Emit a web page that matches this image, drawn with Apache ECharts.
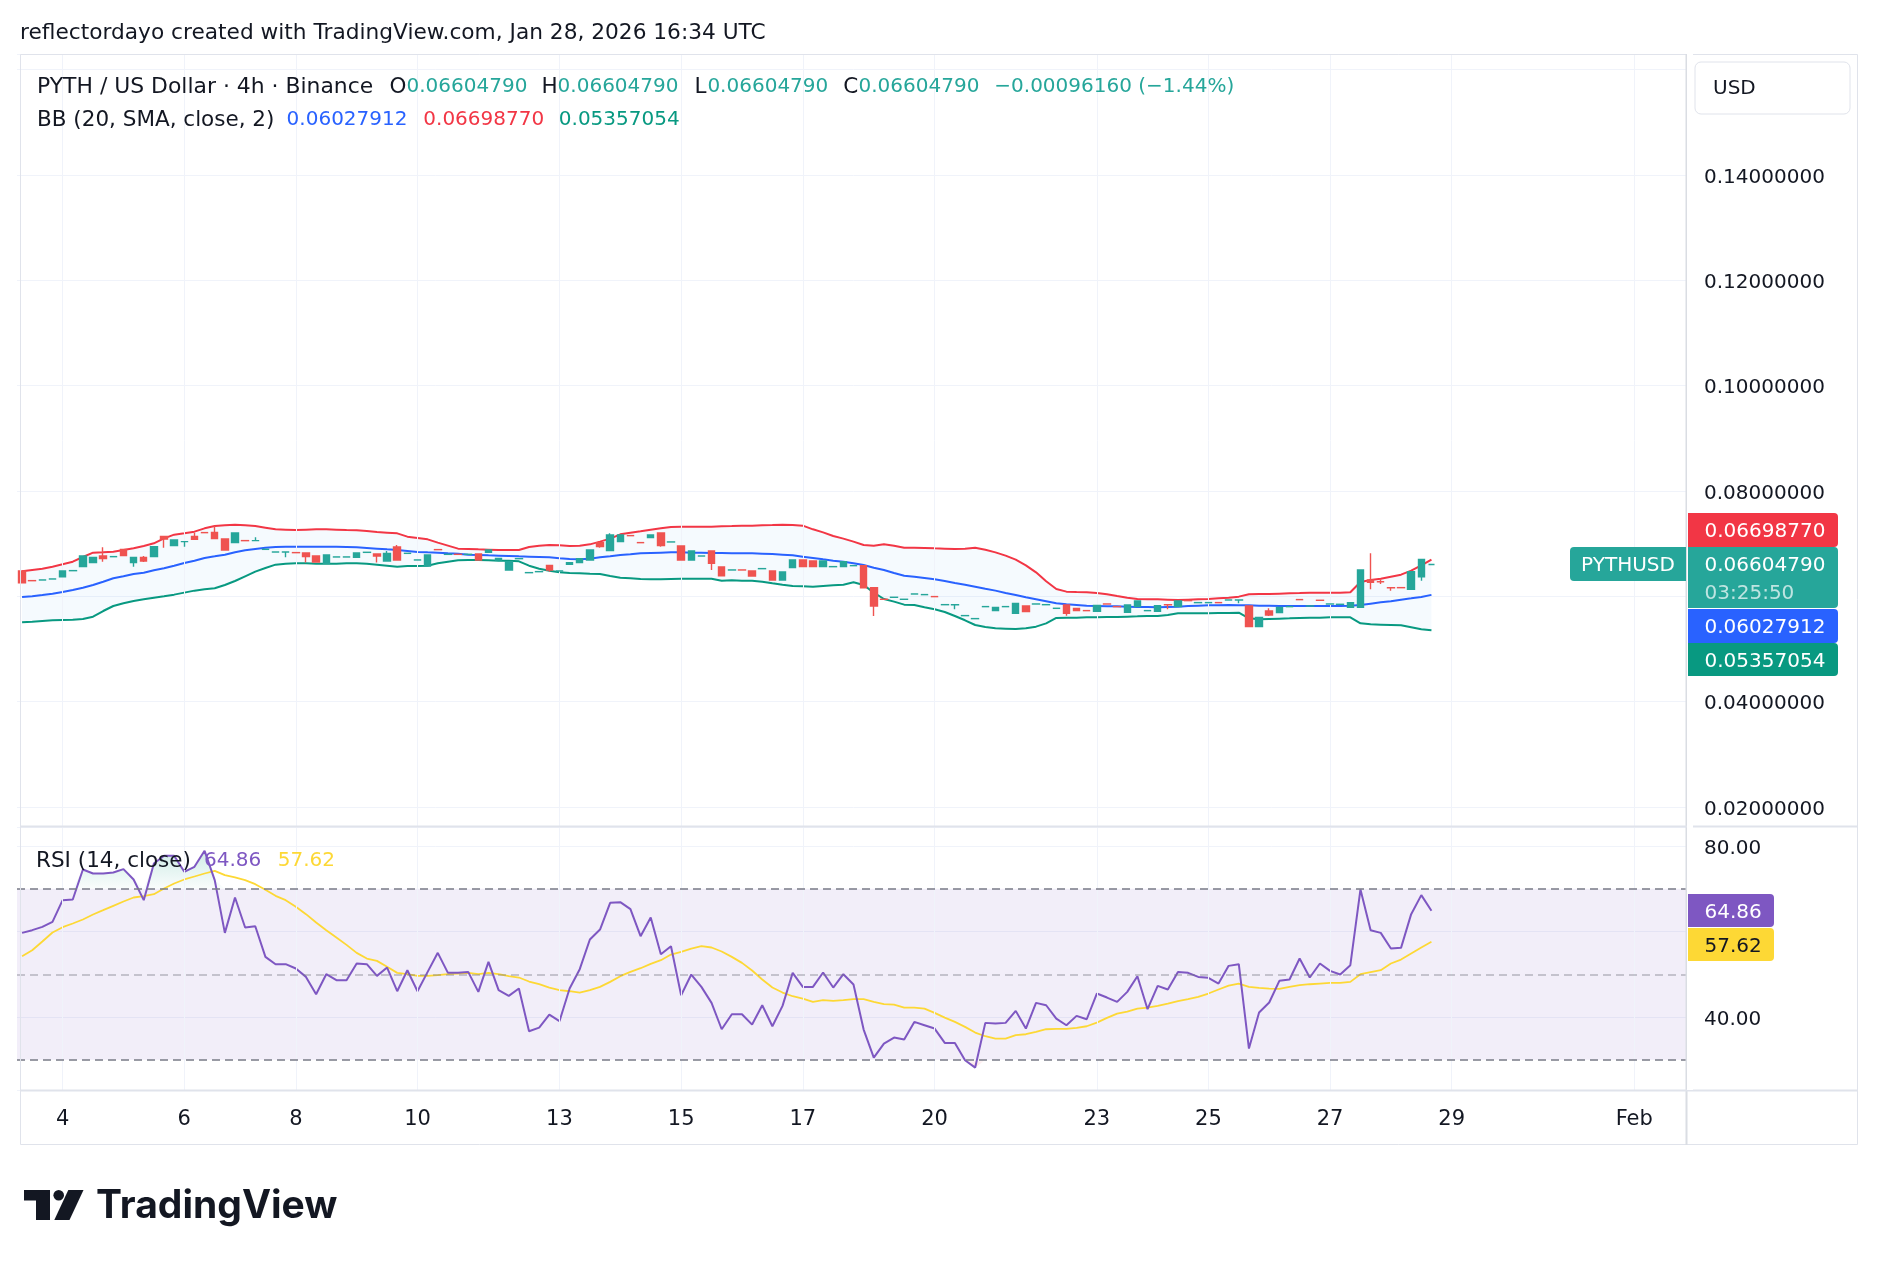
<!DOCTYPE html>
<html>
<head>
<meta charset="utf-8">
<title>PYTH / US Dollar · 4h</title>
<script src="https://cdn.jsdelivr.net/npm/echarts@6.0.0/dist/echarts.min.js"></script>
<style>
  html, body { margin: 0; padding: 0; background: #ffffff; }
  #chart { width: 1878px; height: 1266px; }
</style>
</head>
<body>
<div id="chart"></div>
<script>
// 4h bars, Jan 3 08:00 -> Jan 28 16:00 (the pair skips some bars)
var opens = [
  0.06481,0.06298,0.06310,0.06329,0.06373,0.06487,0.06563,0.06640,0.06765,0.06753,
  0.06892,0.06640,0.06740,0.06753,0.07139,0.06962,0.07038,0.07139,0.07210,0.07215,
  0.07089,0.07019,0.07058,0.07057,0.06892,0.06841,0.06841,0.06830,0.06822,0.06765,
  0.06627,0.06747,0.06747,0.06740,0.06835,0.06804,0.06671,0.06937,0.06816,0.06690,
  0.06576,0.06887,0.06797,0.06798,0.06797,0.06804,0.06835,0.06690,0.06500,0.06715,
  0.06449,0.06468,0.06588,0.06481,0.06608,0.06640,0.06690,0.07019,0.06867,0.07038,
  0.07153,0.07020,0.07114,0.07202,0.07032,0.06956,0.06690,0.06765,0.06861,0.06557,
  0.06500,0.06501,0.06481,0.06525,0.06481,0.06310,0.06544,0.06690,0.06671,0.06563,
  0.06563,0.06563,0.06582,0.06582,0.06164,0.05944,0.05981,0.05943,0.06044,0.06032,
  0.05995,0.05841,0.05841,0.05633,0.05576,0.05804,0.05728,0.05804,0.05677,0.05816,
  0.05854,0.05841,0.05772,0.05835,0.05772,0.05729,0.05715,0.05855,0.05805,0.05696,
  0.05804,0.05728,0.05715,0.05842,0.05804,0.05919,0.05880,0.05880,0.05881,0.05930,
  0.05930,0.05816,0.05424,0.05721,0.05690,0.05804,0.05938,0.05816,0.05925,0.05854,
  0.05848,0.05791,0.05791,0.06310,0.06279,0.06165,0.06165,0.06133,0.06373,0.0660479
];
var closes = [
  0.06259,0.06297,0.06311,0.06330,0.06481,0.06488,0.06765,0.06740,0.06715,0.06754,
  0.06772,0.06740,0.06671,0.06943,0.07089,0.07070,0.07039,0.07082,0.07209,0.07095,
  0.06880,0.07202,0.07057,0.07058,0.06893,0.06842,0.06842,0.06829,0.06753,0.06652,
  0.06785,0.06748,0.06748,0.06822,0.06836,0.06765,0.06816,0.06690,0.06817,0.06691,
  0.06785,0.06886,0.06798,0.06797,0.06798,0.06690,0.06880,0.06721,0.06658,0.06716,
  0.06450,0.06469,0.06500,0.06482,0.06640,0.06715,0.06880,0.06943,0.07164,0.07164,
  0.07152,0.07019,0.07164,0.06962,0.07033,0.06690,0.06861,0.06766,0.06627,0.06392,
  0.06501,0.06500,0.06386,0.06526,0.06310,0.06462,0.06690,0.06563,0.06563,0.06671,
  0.06564,0.06658,0.06583,0.06164,0.05816,0.05943,0.05982,0.05944,0.06045,0.06033,
  0.05994,0.05842,0.05842,0.05634,0.05577,0.05805,0.05791,0.05805,0.05867,0.05709,
  0.05855,0.05842,0.05773,0.05677,0.05728,0.05728,0.05829,0.05854,0.05804,0.05835,
  0.05911,0.05729,0.05823,0.05841,0.05911,0.05918,0.05881,0.05881,0.05880,0.05931,
  0.05931,0.05424,0.05601,0.05646,0.05791,0.05805,0.05937,0.05817,0.05924,0.05855,
  0.05849,0.05880,0.06500,0.06266,0.06278,0.06164,0.06164,0.06468,0.0670095,0.0660479
];
var lows = [
  0.06259,0.06297,0.06310,0.06329,0.06373,0.06487,0.06563,0.06640,0.06658,0.06753,
  0.06772,0.06563,0.06652,0.06753,0.06924,0.06962,0.06943,0.07082,0.07209,0.07095,
  0.06880,0.07019,0.07057,0.07057,0.06892,0.06841,0.06740,0.06829,0.06640,0.06652,
  0.06627,0.06747,0.06747,0.06740,0.06835,0.06640,0.06671,0.06690,0.06816,0.06690,
  0.06576,0.06886,0.06797,0.06797,0.06797,0.06690,0.06835,0.06690,0.06500,0.06715,
  0.06449,0.06468,0.06468,0.06481,0.06608,0.06640,0.06690,0.06924,0.06867,0.07038,
  0.07152,0.07019,0.07114,0.06943,0.07032,0.06690,0.06690,0.06765,0.06500,0.06392,
  0.06500,0.06500,0.06386,0.06525,0.06310,0.06310,0.06544,0.06563,0.06563,0.06563,
  0.06563,0.06563,0.06582,0.06164,0.05627,0.05943,0.05981,0.05943,0.06044,0.06032,
  0.05994,0.05841,0.05753,0.05633,0.05576,0.05804,0.05728,0.05804,0.05677,0.05709,
  0.05854,0.05841,0.05772,0.05633,0.05728,0.05728,0.05715,0.05854,0.05804,0.05696,
  0.05804,0.05728,0.05715,0.05753,0.05804,0.05918,0.05880,0.05880,0.05880,0.05930,
  0.05867,0.05424,0.05424,0.05627,0.05690,0.05804,0.05937,0.05816,0.05924,0.05854,
  0.05848,0.05791,0.05791,0.06133,0.06234,0.06108,0.06164,0.06133,0.06297,0.0660479
];
var highs = [
  0.06481,0.06298,0.06311,0.06330,0.06481,0.06488,0.06765,0.06740,0.06930,0.06754,
  0.06892,0.06740,0.06765,0.06943,0.07139,0.07070,0.07039,0.07209,0.07210,0.07342,
  0.07089,0.07202,0.07058,0.07120,0.06893,0.06842,0.06842,0.06830,0.06822,0.06765,
  0.06785,0.06748,0.06748,0.06822,0.06836,0.06804,0.06861,0.06975,0.06817,0.06691,
  0.06785,0.06887,0.06798,0.06798,0.06798,0.06804,0.06880,0.06721,0.06658,0.06716,
  0.06450,0.06469,0.06588,0.06482,0.06640,0.06715,0.06880,0.07038,0.07196,0.07164,
  0.07153,0.07020,0.07164,0.07202,0.07033,0.06956,0.06861,0.06766,0.06861,0.06557,
  0.06501,0.06501,0.06481,0.06526,0.06481,0.06462,0.06690,0.06690,0.06671,0.06671,
  0.06564,0.06658,0.06583,0.06582,0.06164,0.05944,0.05982,0.05944,0.06045,0.06033,
  0.05995,0.05842,0.05842,0.05634,0.05577,0.05805,0.05791,0.05805,0.05867,0.05816,
  0.05855,0.05842,0.05773,0.05835,0.05772,0.05729,0.05829,0.05855,0.05805,0.05835,
  0.05911,0.05729,0.05823,0.05842,0.05911,0.05919,0.05881,0.05881,0.05881,0.05931,
  0.05931,0.05816,0.05601,0.05772,0.05791,0.05805,0.05938,0.05817,0.05925,0.05855,
  0.05849,0.05880,0.06500,0.06816,0.06323,0.06165,0.06165,0.06468,0.0670095,0.0660479
];

// Bollinger Bands (20, SMA, close, 2)
var bbUpper = [
  0.06475,0.06500,0.06525,0.06563,0.06608,0.06658,0.06747,0.06829,0.06835,0.06848,
  0.06880,0.06911,0.06956,0.07006,0.07101,0.07171,0.07196,0.07228,0.07291,0.07335,
  0.07348,0.07361,0.07348,0.07335,0.07304,0.07272,0.07266,0.07259,0.07266,0.07272,
  0.07272,0.07266,0.07259,0.07253,0.07240,0.07221,0.07209,0.07196,0.07133,0.07108,
  0.07082,0.07019,0.06962,0.06905,0.06899,0.06892,0.06886,0.06880,0.06880,0.06880,
  0.06937,0.06962,0.06975,0.06968,0.06956,0.06962,0.06987,0.07038,0.07095,0.07177,
  0.07209,0.07234,0.07266,0.07291,0.07316,0.07323,0.07323,0.07323,0.07323,0.07329,
  0.07335,0.07342,0.07342,0.07348,0.07354,0.07361,0.07354,0.07342,0.07272,0.07215,
  0.07145,0.07095,0.07038,0.06975,0.06962,0.06987,0.06962,0.06924,0.06924,0.06918,
  0.06911,0.06905,0.06899,0.06905,0.06924,0.06886,0.06835,0.06772,0.06696,0.06588,
  0.06456,0.06285,0.06139,0.06089,0.06082,0.06076,0.06063,0.06038,0.06006,0.05975,
  0.05949,0.05943,0.05943,0.05937,0.05930,0.05937,0.05943,0.05949,0.05962,0.05975,
  0.05994,0.06038,0.06044,0.06044,0.06051,0.06057,0.06063,0.06070,0.06070,0.06070,
  0.06070,0.06076,0.06272,0.06310,0.06335,0.06373,0.06411,0.06487,0.06588,0.0669877
];
var bbBasis = [
  0.05988,0.06000,0.06025,0.06051,0.06082,0.06120,0.06164,0.06215,0.06278,0.06342,
  0.06380,0.06424,0.06449,0.06494,0.06532,0.06582,0.06633,0.06677,0.06728,0.06759,
  0.06791,0.06835,0.06873,0.06899,0.06924,0.06937,0.06943,0.06943,0.06943,0.06943,
  0.06943,0.06943,0.06937,0.06930,0.06918,0.06905,0.06892,0.06880,0.06861,0.06842,
  0.06835,0.06829,0.06816,0.06810,0.06791,0.06785,0.06778,0.06772,0.06766,0.06759,
  0.06753,0.06747,0.06740,0.06721,0.06709,0.06702,0.06715,0.06740,0.06759,0.06785,
  0.06797,0.06816,0.06823,0.06829,0.06835,0.06835,0.06829,0.06829,0.06823,0.06823,
  0.06816,0.06816,0.06816,0.06810,0.06804,0.06791,0.06778,0.06753,0.06728,0.06702,
  0.06677,0.06658,0.06627,0.06595,0.06544,0.06500,0.06443,0.06392,0.06373,0.06348,
  0.06323,0.06291,0.06253,0.06221,0.06183,0.06145,0.06108,0.06063,0.06025,0.05981,
  0.05943,0.05905,0.05867,0.05848,0.05836,0.05823,0.05817,0.05810,0.05810,0.05804,
  0.05798,0.05798,0.05791,0.05798,0.05804,0.05817,0.05823,0.05829,0.05829,0.05836,
  0.05829,0.05829,0.05823,0.05823,0.05817,0.05817,0.05817,0.05817,0.05817,0.05817,
  0.05817,0.05823,0.05836,0.05861,0.05886,0.05905,0.05937,0.05962,0.05988,0.06027912
];
var bbLower = [
  0.05507,0.05519,0.05532,0.05545,0.05551,0.05557,0.05570,0.05614,0.05721,0.05816,
  0.05867,0.05911,0.05943,0.05975,0.06000,0.06032,0.06070,0.06108,0.06133,0.06152,
  0.06215,0.06291,0.06380,0.06468,0.06538,0.06601,0.06620,0.06627,0.06627,0.06620,
  0.06620,0.06620,0.06627,0.06627,0.06620,0.06601,0.06582,0.06563,0.06576,0.06576,
  0.06582,0.06627,0.06658,0.06684,0.06690,0.06690,0.06684,0.06677,0.06677,0.06665,
  0.06582,0.06525,0.06487,0.06456,0.06443,0.06437,0.06430,0.06424,0.06386,0.06354,
  0.06342,0.06329,0.06323,0.06323,0.06329,0.06335,0.06335,0.06335,0.06335,0.06297,
  0.06304,0.06297,0.06297,0.06278,0.06247,0.06221,0.06196,0.06190,0.06183,0.06196,
  0.06209,0.06221,0.06266,0.06215,0.06070,0.05949,0.05899,0.05842,0.05836,0.05791,
  0.05753,0.05703,0.05627,0.05545,0.05456,0.05418,0.05392,0.05386,0.05380,0.05392,
  0.05424,0.05487,0.05589,0.05595,0.05595,0.05601,0.05601,0.05608,0.05608,0.05614,
  0.05620,0.05627,0.05627,0.05646,0.05677,0.05677,0.05677,0.05677,0.05684,0.05684,
  0.05690,0.05582,0.05563,0.05570,0.05576,0.05582,0.05589,0.05595,0.05595,0.05601,
  0.05601,0.05601,0.05487,0.05468,0.05462,0.05456,0.05449,0.05411,0.05373,0.05357054
];

// RSI (14, close) and its moving average
var rsi = [
  59.70,60.33,61.11,62.28,67.36,67.51,74.54,73.60,73.60,73.84,
  74.62,72.20,67.36,75.95,77.74,77.74,73.99,75.17,78.91,72.04,
  59.70,67.98,60.95,61.26,54.08,52.36,52.36,51.35,49.39,45.33,
  50.02,48.61,48.61,52.52,52.36,49.63,51.58,46.03,50.95,46.03,
  50.56,55.02,50.33,50.33,50.56,45.88,52.91,46.27,44.94,46.66,
  36.66,37.52,40.57,39.01,46.66,51.19,58.14,60.48,66.73,66.89,
  65.25,58.92,63.29,54.70,56.58,45.10,49.94,47.05,43.30,37.13,
  40.65,40.65,38.22,42.75,37.83,42.60,50.33,47.05,47.05,50.41,
  46.89,50.02,47.60,37.05,30.49,33.77,35.18,34.71,38.85,38.07,
  37.29,33.93,33.93,29.87,28.15,38.62,38.46,38.62,41.43,37.29,
  43.30,42.75,39.63,38.07,40.26,39.47,45.49,44.55,43.54,45.88,
  49.55,41.82,47.28,46.43,50.56,50.33,49.39,49.16,47.83,51.97,
  52.36,32.60,41.04,43.38,48.46,48.77,53.69,49.24,52.52,50.80,
  49.94,52.13,69.86,60.33,59.70,56.03,56.19,64.08,68.53,64.86
];
var rsiMa = [
  54.24,55.64,57.67,59.78,61.03,61.89,62.83,64.00,65.01,66.03,
  67.04,67.98,68.29,68.76,70.09,71.26,72.20,72.90,73.60,74.23,
  73.21,72.67,72.04,71.10,69.78,68.37,67.36,65.79,64.08,62.12,
  60.33,58.61,56.89,55.02,53.69,53.14,51.74,50.33,50.02,49.63,
  49.63,49.78,50.02,50.17,50.33,50.02,50.33,50.02,49.55,49.24,
  48.30,47.67,46.89,46.27,46.03,45.72,46.27,47.05,48.22,49.55,
  50.56,51.42,52.44,53.30,54.63,55.25,56.03,56.58,56.27,55.33,
  54.08,52.67,50.88,48.77,46.89,45.72,44.86,44.32,43.54,43.93,
  43.77,43.93,44.16,44.16,43.54,42.99,42.91,42.21,42.21,41.97,
  40.96,39.86,38.85,37.68,36.35,35.49,34.94,34.94,35.73,35.96,
  36.51,37.13,37.21,37.21,37.44,37.83,38.69,39.79,40.80,41.27,
  41.97,42.21,42.60,43.14,43.69,44.16,44.71,45.49,46.43,47.36,
  47.83,47.05,46.82,46.66,46.58,47.05,47.44,47.67,47.83,47.99,
  47.99,48.22,50.02,50.49,50.95,52.52,53.45,54.86,56.27,57.62
];

// time axis: bar slot of each day label
var tickIdx = [4, 16, 27, 39, 53, 65, 77, 90, 106, 117, 129, 141, 159];
var tickLabels = ['4', '6', '8', '10', '13', '15', '17', '20', '23', '25', '27', '29', 'Feb'];
var slotCount = 165; // bars + empty future slots up to the price scale
// scale labels that TradingView hides behind its badges / currency box
var hiddenPriceTicks = [0.06, 0.16];
var hiddenRsiTicks = [60];

var FONT = 'DejaVu Sans';
var INK = '#131722';
var UP = '#26A69A';
var DOWN = '#EF5350';
var GRIDC = '#F0F3FA';

var cats = [];
for (var k = 0; k < slotCount; k++) cats.push(String(k));

var candles = opens.map(function (o, i) {
  var item = { value: [o, closes[i], lows[i], highs[i]] };
  if (o === closes[i]) item.itemStyle = { color: UP, borderColor: UP };
  return item;
});
var bbBand = bbUpper.map(function (u, i) { return +(u - bbLower[i]).toFixed(8); });
var rsiOver = rsi.map(function (v) { return Math.max(v, 70); });
var rsiUnder = rsi.map(function (v) { return Math.min(v, 30); });

var last = opens.length - 1;
var chg = closes[last] - closes[last - 1];
var chgPct = chg / closes[last - 1] * 100;
function minus(s) { return s.replace('-', '\u2212'); }
function isHidden(list, v) {
  return list.some(function (h) { return Math.abs(h - v) < 1e-9 * Math.max(1, h); });
}

function label(x, y, text, color, opt) {
  opt = opt || {};
  return {
    type: 'text', x: x, y: y, z: 120, silent: true,
    style: {
      text: text, fill: color,
      fontFamily: opt.family || FONT, fontSize: opt.size || 20, fontWeight: opt.weight || 'normal',
      align: opt.align || 'left', verticalAlign: 'middle',
      textAlign: opt.align || 'left', textVerticalAlign: 'middle'
    }
  };
}
function box(x, y, w, h, fill, r, stroke) {
  return {
    type: 'rect', z: 110, silent: true,
    shape: { x: x, y: y, width: w, height: h, r: r || 0 },
    style: { fill: fill, stroke: stroke || null, lineWidth: stroke ? 1 : 0 }
  };
}
function seg(x1, y1, x2, y2, color, w) {
  return {
    type: 'line', z: 105, silent: true,
    shape: { x1: x1, y1: y1, x2: x2, y2: y2 },
    style: { stroke: color, lineWidth: w || 1 }
  };
}

var WORD = { size: 21.5 };
var graphics = [
  label(20, 33, 'reflectordayo created with TradingView.com, Jan 28, 2026 16:34 UTC', INK, { size: 21.7 }),
  // frame and separators
  { type: 'rect', z: 104, silent: true, shape: { x: 20.5, y: 54.5, width: 1837, height: 1090 },
    style: { fill: 'none', stroke: '#E0E3EB', lineWidth: 1 } },
  box(1687, 54, 6, 1036, '#ffffff'),
  seg(1686.5, 54, 1686.5, 1145, '#DADDE3', 2),
  seg(20, 826.5, 1858, 826.5, '#E0E3EB', 2),
  seg(20, 1090.5, 1858, 1090.5, '#E0E3EB', 2),
  // currency box
  box(1695, 62, 155, 52, '#ffffff', 6, '#E0E3EB'),
  label(1713, 89, 'USD', INK),
  // legend, price pane
  label(37, 87, 'PYTH / US Dollar \u00b7 4h \u00b7 Binance', INK, { size: 21.9 }),
  label(389.5, 87, 'O', INK, WORD), label(406.5, 87, opens[last].toFixed(8), UP),
  label(541.6, 87, 'H', INK, WORD), label(557.6, 87, highs[last].toFixed(8), UP),
  label(694.4, 87, 'L', INK, WORD), label(707.4, 87, lows[last].toFixed(8), UP),
  label(843.3, 87, 'C', INK, WORD), label(858.5, 87, closes[last].toFixed(8), UP),
  label(994.3, 87, minus(chg.toFixed(8)) + ' (' + minus(chgPct.toFixed(2)) + '%)', UP),
  label(37, 120, 'BB (20, SMA, close, 2)', INK, WORD),
  label(286.6, 120, bbBasis[last].toFixed(8), '#2962FF'),
  label(423.3, 120, bbUpper[last].toFixed(8), '#F23645'),
  label(558.8, 120, bbLower[last].toFixed(8), '#089981'),
  // legend, RSI pane
  label(36, 861, 'RSI (14, close)', INK, WORD),
  label(204, 861, rsi[last].toFixed(2), '#7E57C2'),
  label(277.7, 861, rsiMa[last].toFixed(2), '#FDD835'),
  // price scale badges
  box(1688, 513, 150, 34, '#F23645', [0, 4, 4, 0]),
  label(1704.5, 531.5, bbUpper[last].toFixed(8), '#ffffff'),
  box(1688, 547, 150, 61, UP, [0, 4, 4, 0]),
  label(1704.5, 565.5, closes[last].toFixed(8), '#ffffff'),
  label(1704.5, 593.5, '03:25:50', 'rgba(255,255,255,0.7)'),
  box(1688, 609, 150, 34, '#2962FF', [0, 4, 4, 0]),
  label(1704.5, 627.5, bbBasis[last].toFixed(8), '#ffffff'),
  box(1688, 643, 150, 33, '#089981', [0, 4, 4, 0]),
  label(1704.5, 661.5, bbLower[last].toFixed(8), '#ffffff'),
  box(1570, 547, 116, 34, UP, [4, 0, 0, 4]),
  label(1628, 565.5, 'PYTHUSD', '#ffffff', { align: 'center' }),
  box(1688, 894, 86, 33, '#7E57C2', [0, 4, 4, 0]),
  label(1704.5, 912.5, rsi[last].toFixed(2), '#ffffff'),
  box(1688, 928, 86, 33, '#FDD835', [0, 4, 4, 0]),
  label(1704.5, 946.5, rsiMa[last].toFixed(2), INK),
  // watermark
  box(24, 1190, 26, 10.5, INK),
  box(36, 1190, 14, 30, INK),
  { type: 'circle', z: 110, silent: true, shape: { cx: 58.7, cy: 1195.3, r: 5.3 }, style: { fill: INK } },
  { type: 'polygon', z: 110, silent: true,
    shape: { points: [[68.3, 1190], [83.5, 1190], [69.5, 1220], [54.3, 1220]] }, style: { fill: INK } },
  label(96, 1206, 'TradingView', INK, { family: 'Inter', size: 39, weight: 'bold' })
];

function dayLines(xi, yi) {
  return {
    type: 'line', xAxisIndex: xi, yAxisIndex: yi, data: [], silent: true, z: 1,
    markLine: {
      silent: true, symbol: ['none', 'none'], label: { show: false },
      lineStyle: { color: GRIDC, width: 1, type: 'solid' },
      data: tickIdx.map(function (i) { return { xAxis: i }; })
    }
  };
}
function plainLine(data, color, width, z, xi, yi) {
  return {
    type: 'line', xAxisIndex: xi || 0, yAxisIndex: yi || 0, data: data, symbol: 'none',
    silent: true, z: z, lineStyle: { color: color, width: width }
  };
}
// price-scale label, nudged a little lower like TradingView's
var scaleRich = { s: { color: INK, fontFamily: FONT, fontSize: 20, padding: [5, 0, 0, 0] } };

var chart = echarts.init(document.getElementById('chart'), null, { renderer: 'canvas' });
chart.setOption({
  animation: false,
  backgroundColor: '#ffffff',
  grid: [
    { left: 17, top: 54, width: 1673, height: 773, outerBoundsMode: 'none' },
    { left: 17, top: 827, width: 1673, height: 263, outerBoundsMode: 'none' }
  ],
  xAxis: [
    { type: 'category', gridIndex: 0, data: cats, boundaryGap: true,
      axisLine: { show: false }, axisTick: { show: false }, axisLabel: { show: false }, splitLine: { show: false } },
    { type: 'category', gridIndex: 1, data: cats, boundaryGap: true,
      axisLine: { show: false }, axisTick: { show: false }, splitLine: { show: false },
      axisLabel: {
        interval: function (idx) { return tickIdx.indexOf(idx) >= 0; },
        formatter: function (v, idx) { return tickLabels[tickIdx.indexOf(idx)] || ''; },
        color: INK, fontFamily: FONT, fontSize: 21, margin: 19
      } }
  ],
  yAxis: [
    { type: 'value', gridIndex: 0, position: 'right', min: 0.0162, max: 0.162975, splitNumber: 7,
      axisLine: { show: false }, axisTick: { show: false },
      axisLabel: { showMinLabel: false, showMaxLabel: false, margin: 14, rich: scaleRich,
        formatter: function (v) { return isHidden(hiddenPriceTicks, v) ? '' : '{s|' + v.toFixed(8) + '}'; } },
      splitLine: { lineStyle: { color: GRIDC, width: 1 } } },
    { type: 'value', gridIndex: 1, position: 'right', min: 22.9, max: 84.49, splitNumber: 3,
      axisLine: { show: false }, axisTick: { show: false },
      axisLabel: { showMinLabel: false, showMaxLabel: false, margin: 14, rich: scaleRich,
        formatter: function (v) { return isHidden(hiddenRsiTicks, v) ? '' : '{s|' + v.toFixed(2) + '}'; } },
      splitLine: { lineStyle: { color: GRIDC, width: 1 } } }
  ],
  series: [
    dayLines(0, 0),
    dayLines(1, 1),
    // Bollinger fill (lower + band width, stacked)
    { type: 'line', xAxisIndex: 0, yAxisIndex: 0, data: bbLower, stack: 'bb', symbol: 'none', silent: true, z: 1,
      lineStyle: { width: 0 } },
    { type: 'line', xAxisIndex: 0, yAxisIndex: 0, data: bbBand, stack: 'bb', symbol: 'none', silent: true, z: 1,
      lineStyle: { width: 0 }, areaStyle: { color: 'rgba(33,150,243,0.06)' } },
    plainLine(bbUpper, '#F23645', 2, 3),
    plainLine(bbBasis, '#2962FF', 2, 3),
    plainLine(bbLower, '#089981', 2, 3),
    { type: 'candlestick', xAxisIndex: 0, yAxisIndex: 0, data: candles, barWidth: 7, silent: true, z: 5,
      itemStyle: { color: UP, color0: DOWN, borderColor: UP, borderColor0: DOWN, borderWidth: 1.4 } },
    // RSI pane
    { type: 'line', xAxisIndex: 1, yAxisIndex: 1, data: [], silent: true, z: 1,
      markArea: { silent: true, itemStyle: { color: 'rgba(126,87,194,0.1)' }, data: [[{ yAxis: 70 }, { yAxis: 30 }]] },
      markLine: { silent: true, symbol: ['none', 'none'], label: { show: false },
        data: [
          { yAxis: 70, lineStyle: { color: '#787B86', width: 1.6, type: [8, 5] } },
          { yAxis: 50, lineStyle: { color: 'rgba(120,123,134,0.5)', width: 1.6, type: [8, 5] } },
          { yAxis: 30, lineStyle: { color: '#787B86', width: 1.6, type: [8, 5] } }
        ] } },
    { type: 'line', xAxisIndex: 1, yAxisIndex: 1, data: rsiOver, symbol: 'none', silent: true, z: 2,
      lineStyle: { width: 0 },
      areaStyle: { origin: 70, color: { type: 'linear', x: 0, y: 0, x2: 0, y2: 1,
        colorStops: [{ offset: 0, color: 'rgba(8,153,129,0.28)' }, { offset: 1, color: 'rgba(8,153,129,0.03)' }] } } },
    { type: 'line', xAxisIndex: 1, yAxisIndex: 1, data: rsiUnder, symbol: 'none', silent: true, z: 2,
      lineStyle: { width: 0 },
      areaStyle: { origin: 30, color: { type: 'linear', x: 0, y: 0, x2: 0, y2: 1,
        colorStops: [{ offset: 0, color: 'rgba(242,54,69,0.03)' }, { offset: 1, color: 'rgba(242,54,69,0.28)' }] } } },
    plainLine(rsiMa, '#FDD835', 1.8, 3, 1, 1),
    plainLine(rsi, '#7E57C2', 2, 4, 1, 1)
  ],
  graphic: graphics
});
</script>
</body>
</html>
